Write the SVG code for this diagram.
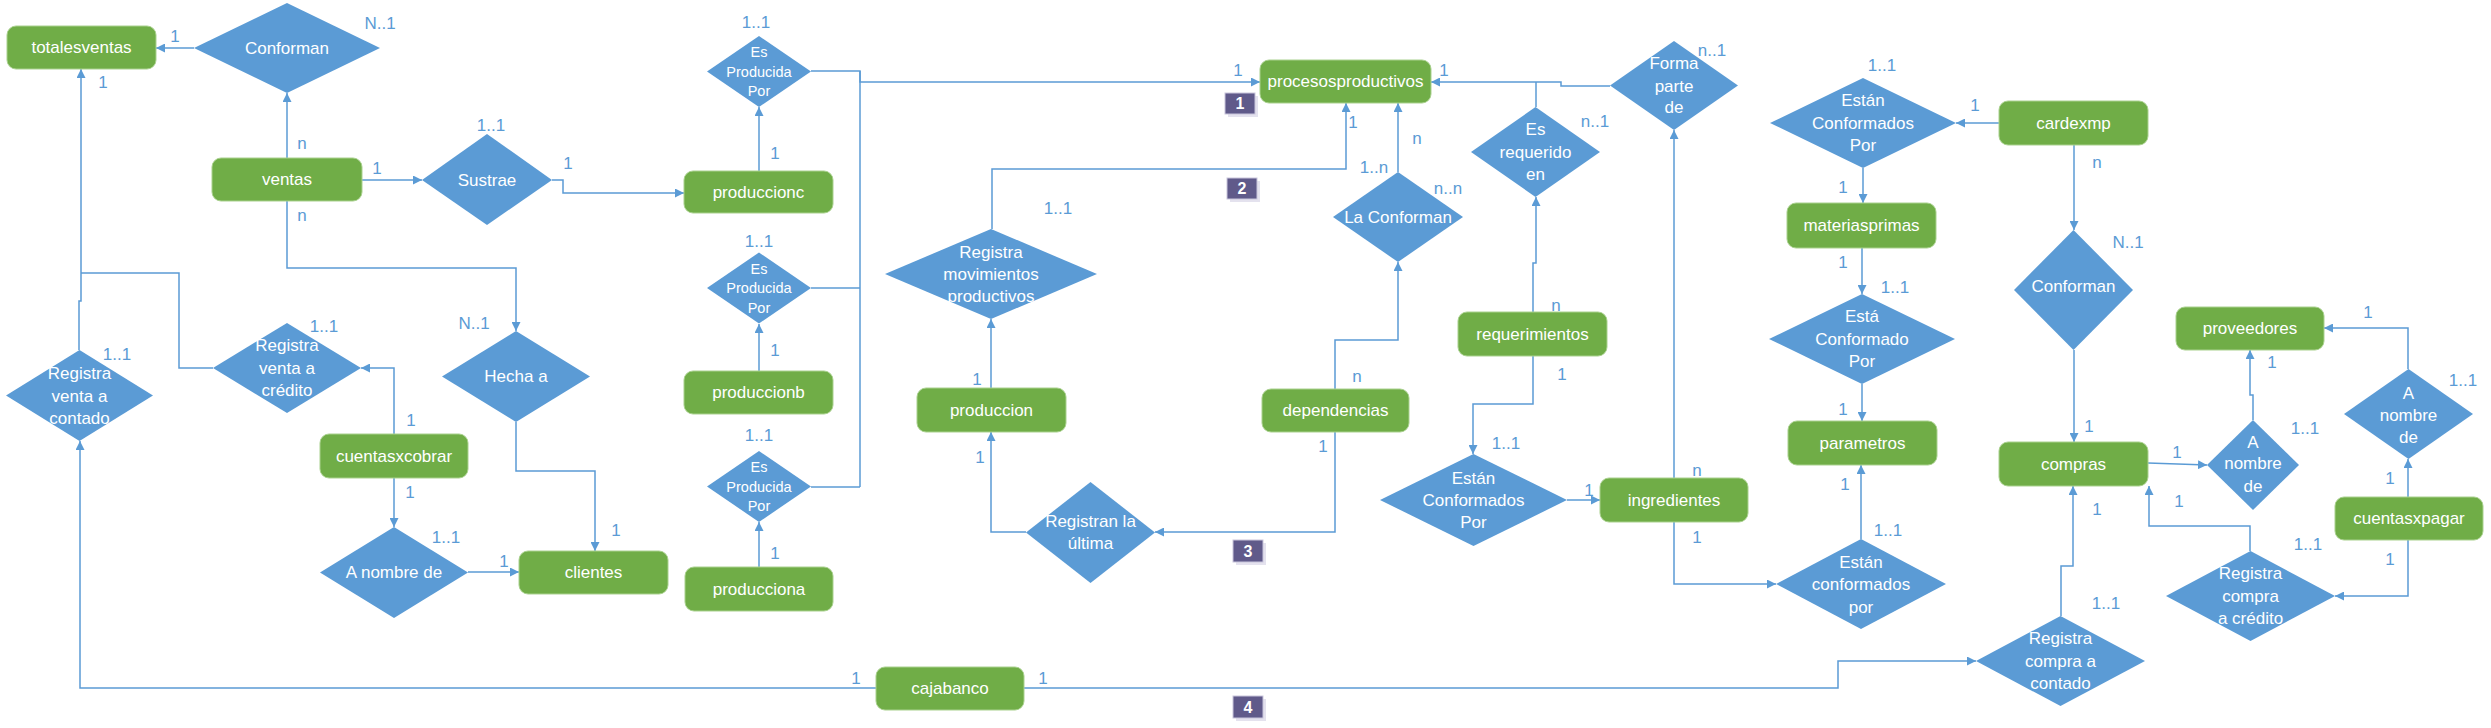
<svg xmlns="http://www.w3.org/2000/svg" width="2491" height="728" viewBox="0 0 2491 728">
<defs>
<marker id="ar" viewBox="0 0 10 10" refX="10" refY="5" markerWidth="9" markerHeight="9" markerUnits="userSpaceOnUse" orient="auto">
<path d="M0,0 L10,5 L0,10 z" fill="#5B9BD5"/>
</marker>
<style>
.ent rect{fill:#70AD47;stroke:#A9D18E;stroke-width:1}
.ent text,.rel text{fill:#fff;font-family:"Liberation Sans",Arial,sans-serif;font-size:17px;text-anchor:middle;dominant-baseline:central}
.rel polygon{fill:#5B9BD5}
.rel text.s{font-size:14.5px}
.lbl{fill:#5B9BD5;font-family:"Liberation Sans",Arial,sans-serif;font-size:17px;text-anchor:middle;dominant-baseline:central}
#connectors polyline{fill:none;stroke:#5B9BD5;stroke-width:1.5}
#connectors polyline.a{marker-end:url(#ar)}
.badge rect.sh{fill:#E4E2EE}
.badge rect.bg{fill:#605A8A;stroke:#C9C6DC;stroke-width:1}
.badge text{fill:#fff;font-family:"Liberation Sans",Arial,sans-serif;font-size:16px;font-weight:bold;text-anchor:middle;dominant-baseline:central}
</style>
</defs>
<rect width="2491" height="728" fill="#fff"/>

<g id="connectors">
<polyline class="a" points="194,48 156,48"/>
<polyline class="a" points="287,158 287,93"/>
<polyline class="a" points="362,180 422,180"/>
<polyline class="a" points="552,180 563,180 563,193 684,193"/>
<polyline class="a" points="759,171 759,107"/>
<polyline class="a" points="811,71 860,71 860,82 1260,82"/>
<polyline points="860,71 860,487"/>
<polyline points="811,288 860,288"/>
<polyline points="811,487 860,487"/>
<polyline class="a" points="759,371 759,324"/>
<polyline class="a" points="759,567 759,522"/>
<polyline class="a" points="287,201 287,268 516,268 516,331"/>
<polyline class="a" points="516,422 516,471 595,471 595,551"/>
<polyline class="a" points="79,350 79,301 81,301 81,69"/>
<polyline points="81,273 179,273 179,368 213,368"/>
<polyline class="a" points="394,434 394,368 361,368"/>
<polyline class="a" points="394,478 394,527"/>
<polyline class="a" points="468,572 519,572"/>
<polyline class="a" points="876,688 80,688 80,441"/>
<polyline class="a" points="1024,688 1838,688 1838,661 1976,661"/>
<polyline class="a" points="992,229 992,169 1346,169 1346,103"/>
<polyline class="a" points="991,388 991,319"/>
<polyline class="a" points="1026,532 991,532 991,432"/>
<polyline class="a" points="1335,432 1335,532 1155,532"/>
<polyline class="a" points="1335,389 1335,340 1398,340 1398,262"/>
<polyline class="a" points="1398,172 1398,103"/>
<polyline class="a" points="1610,86 1561,86 1561,82 1431,82"/>
<polyline points="1536,107 1536,82"/>
<polyline class="a" points="1533,312 1533,263 1536,263 1536,197"/>
<polyline class="a" points="1533,356 1533,404 1473,404 1473,454"/>
<polyline class="a" points="1567,500 1600,500"/>
<polyline class="a" points="1674,478 1674,130"/>
<polyline class="a" points="1674,522 1674,584 1776,584"/>
<polyline class="a" points="1999,123 1956,123"/>
<polyline class="a" points="1863,168 1863,203"/>
<polyline class="a" points="1862,248 1862,294"/>
<polyline class="a" points="1862,384 1862,421"/>
<polyline class="a" points="1861,539 1861,465"/>
<polyline class="a" points="2074,145 2074,230"/>
<polyline class="a" points="2074,350 2074,442"/>
<polyline class="a" points="2148,463 2207,465"/>
<polyline class="a" points="2253,420 2253,395 2250,395 2250,350"/>
<polyline class="a" points="2408,369 2408,328 2324,328"/>
<polyline class="a" points="2408,497 2408,459"/>
<polyline class="a" points="2408,540 2408,596 2335,596"/>
<polyline class="a" points="2250,551 2250,526 2149,526 2149,486"/>
<polyline class="a" points="2061,616 2061,566 2073,566 2073,486"/>
</g>

<g id="n-totalesventas" class="ent"><rect x="7" y="26" width="149" height="43" rx="9"/><text x="81.5" y="47.5">totalesventas</text></g>
<g id="n-ventas" class="ent"><rect x="212" y="158" width="150" height="43" rx="9"/><text x="287" y="179.5">ventas</text></g>
<g id="n-produccionc" class="ent"><rect x="684" y="171" width="149" height="42" rx="9"/><text x="758.5" y="192">produccionc</text></g>
<g id="n-produccionb" class="ent"><rect x="684" y="371" width="149" height="43" rx="9"/><text x="758.5" y="392.5">produccionb</text></g>
<g id="n-producciona" class="ent"><rect x="685" y="567" width="148" height="44" rx="9"/><text x="759" y="589">producciona</text></g>
<g id="n-cuentasxcobrar" class="ent"><rect x="320" y="434" width="148" height="44" rx="9"/><text x="394" y="456">cuentasxcobrar</text></g>
<g id="n-clientes" class="ent"><rect x="519" y="551" width="149" height="43" rx="9"/><text x="593.5" y="572.5">clientes</text></g>
<g id="n-cajabanco" class="ent"><rect x="876" y="667" width="148" height="43" rx="9"/><text x="950" y="688.5">cajabanco</text></g>
<g id="n-procesosproductivos" class="ent"><rect x="1260" y="60" width="171" height="43" rx="9"/><text x="1345.5" y="81.5">procesosproductivos</text></g>
<g id="n-produccion" class="ent"><rect x="917" y="388" width="149" height="44" rx="9"/><text x="991.5" y="410">produccion</text></g>
<g id="n-dependencias" class="ent"><rect x="1262" y="389" width="147" height="43" rx="9"/><text x="1335.5" y="410.5">dependencias</text></g>
<g id="n-requerimientos" class="ent"><rect x="1458" y="312" width="149" height="44" rx="9"/><text x="1532.5" y="334">requerimientos</text></g>
<g id="n-ingredientes" class="ent"><rect x="1600" y="478" width="148" height="44" rx="9"/><text x="1674" y="500">ingredientes</text></g>
<g id="n-cardexmp" class="ent"><rect x="1999" y="101" width="149" height="44" rx="9"/><text x="2073.5" y="123">cardexmp</text></g>
<g id="n-materiasprimas" class="ent"><rect x="1787" y="203" width="149" height="45" rx="9"/><text x="1861.5" y="225.5">materiasprimas</text></g>
<g id="n-parametros" class="ent"><rect x="1788" y="421" width="149" height="44" rx="9"/><text x="1862.5" y="443">parametros</text></g>
<g id="n-compras" class="ent"><rect x="1999" y="442" width="149" height="44" rx="9"/><text x="2073.5" y="464">compras</text></g>
<g id="n-proveedores" class="ent"><rect x="2176" y="307" width="148" height="43" rx="9"/><text x="2250" y="328.5">proveedores</text></g>
<g id="n-cuentasxpagar" class="ent"><rect x="2335" y="497" width="148" height="43" rx="9"/><text x="2409" y="518.5">cuentasxpagar</text></g>

<g id="r-conforman1" class="rel"><polygon points="194,48 287,3 380,48 287,93"/><text x="287" y="48">Conforman</text></g>
<g id="r-sustrae" class="rel"><polygon points="422,180 487,134 552,180 487,225"/><text x="487" y="180">Sustrae</text></g>
<g id="r-esprod1" class="rel"><polygon points="707,71.5 759,36 811,71.5 759,107"/><text class="s" x="759" y="52">Es</text><text class="s" x="759" y="71.5">Producida</text><text class="s" x="759" y="91">Por</text></g>
<g id="r-esprod2" class="rel"><polygon points="707,288 759,252.5 811,288 759,323.5"/><text class="s" x="759" y="268.5">Es</text><text class="s" x="759" y="288">Producida</text><text class="s" x="759" y="307.5">Por</text></g>
<g id="r-esprod3" class="rel"><polygon points="707,486.5 759,451 811,486.5 759,522"/><text class="s" x="759" y="467">Es</text><text class="s" x="759" y="486.5">Producida</text><text class="s" x="759" y="506">Por</text></g>
<g id="r-hecha" class="rel"><polygon points="442,376.5 516,331 590,376.5 516,422"/><text x="516" y="376.5">Hecha a</text></g>
<g id="r-ventacredito" class="rel"><polygon points="213,368 287,323 361,368 287,413"/><text x="287" y="345">Registra</text><text x="287" y="368">venta a</text><text x="287" y="390">crédito</text></g>
<g id="r-ventacontado" class="rel"><polygon points="6,395.5 79.5,350 153,395.5 79.5,441"/><text x="79.5" y="373">Registra</text><text x="79.5" y="396">venta a</text><text x="79.5" y="418">contado</text></g>
<g id="r-anombre1" class="rel"><polygon points="320,572.5 394,527 468,572.5 394,618"/><text x="394" y="572.5">A nombre de</text></g>
<g id="r-regmov" class="rel"><polygon points="885,274 991,229 1097,274 991,319"/><text x="991" y="252">Registra</text><text x="991" y="274">movimientos</text><text x="991" y="296">productivos</text></g>
<g id="r-registran" class="rel"><polygon points="1026,532.5 1090.5,482 1155,532.5 1090.5,583"/><text x="1090.5" y="521">Registran la</text><text x="1090.5" y="543">última</text></g>
<g id="r-laconforman" class="rel"><polygon points="1333,217 1398,172 1463,217 1398,262"/><text x="1398" y="217">La Conforman</text></g>
<g id="r-esrequerido" class="rel"><polygon points="1471,152 1535.5,107 1600,152 1535.5,197"/><text x="1535.5" y="129">Es</text><text x="1535.5" y="152">requerido</text><text x="1535.5" y="174">en</text></g>
<g id="r-formaparte" class="rel"><polygon points="1610,85.5 1674,41 1738,85.5 1674,130"/><text x="1674" y="63">Forma</text><text x="1674" y="86">parte</text><text x="1674" y="107">de</text></g>
<g id="r-estanconf1" class="rel"><polygon points="1380,500 1473.5,454 1567,500 1473.5,546"/><text x="1473.5" y="478">Están</text><text x="1473.5" y="500">Conformados</text><text x="1473.5" y="522">Por</text></g>
<g id="r-estanconf2" class="rel"><polygon points="1770,123 1863,78 1956,123 1863,168"/><text x="1863" y="100">Están</text><text x="1863" y="123">Conformados</text><text x="1863" y="145">Por</text></g>
<g id="r-estaconf" class="rel"><polygon points="1769,339 1862,294 1955,339 1862,384"/><text x="1862" y="316">Está</text><text x="1862" y="339">Conformado</text><text x="1862" y="361">Por</text></g>
<g id="r-estanconf3" class="rel"><polygon points="1776,584 1861,539 1946,584 1861,629"/><text x="1861" y="562">Están</text><text x="1861" y="584">conformados</text><text x="1861" y="607">por</text></g>
<g id="r-conforman2" class="rel"><polygon points="2014,290 2073.5,230 2133,290 2073.5,350"/><text x="2073.5" y="286">Conforman</text></g>
<g id="r-anombre2" class="rel"><polygon points="2207,465 2253,420 2299,465 2253,510"/><text x="2253" y="442">A</text><text x="2253" y="463">nombre</text><text x="2253" y="486">de</text></g>
<g id="r-anombre3" class="rel"><polygon points="2344,414 2408.5,369 2473,414 2408.5,459"/><text x="2408.5" y="393">A</text><text x="2408.5" y="415">nombre</text><text x="2408.5" y="437">de</text></g>
<g id="r-compracredito" class="rel"><polygon points="2166,596 2250.5,551 2335,596 2250.5,641"/><text x="2250.5" y="573">Registra</text><text x="2250.5" y="596">compra</text><text x="2250.5" y="618">a crédito</text></g>
<g id="r-compracontado" class="rel"><polygon points="1976,661 2060.5,616 2145,661 2060.5,706"/><text x="2060.5" y="638">Registra</text><text x="2060.5" y="661">compra a</text><text x="2060.5" y="683">contado</text></g>

<g id="labels">
<text class="lbl" x="175" y="36">1</text>
<text class="lbl" x="380" y="23">N..1</text>
<text class="lbl" x="103" y="82">1</text>
<text class="lbl" x="302" y="143">n</text>
<text class="lbl" x="302" y="215">n</text>
<text class="lbl" x="377" y="168">1</text>
<text class="lbl" x="491" y="125">1..1</text>
<text class="lbl" x="568" y="163">1</text>
<text class="lbl" x="756" y="22">1..1</text>
<text class="lbl" x="775" y="153">1</text>
<text class="lbl" x="759" y="241">1..1</text>
<text class="lbl" x="775" y="350">1</text>
<text class="lbl" x="759" y="435">1..1</text>
<text class="lbl" x="775" y="553">1</text>
<text class="lbl" x="474" y="323">N..1</text>
<text class="lbl" x="616" y="530">1</text>
<text class="lbl" x="117" y="354">1..1</text>
<text class="lbl" x="324" y="326">1..1</text>
<text class="lbl" x="411" y="420">1</text>
<text class="lbl" x="410" y="492">1</text>
<text class="lbl" x="446" y="537">1..1</text>
<text class="lbl" x="504" y="561">1</text>
<text class="lbl" x="856" y="678">1</text>
<text class="lbl" x="1043" y="678">1</text>
<text class="lbl" x="1238" y="70">1</text>
<text class="lbl" x="1353" y="122">1</text>
<text class="lbl" x="1058" y="208">1..1</text>
<text class="lbl" x="977" y="379">1</text>
<text class="lbl" x="980" y="457">1</text>
<text class="lbl" x="1323" y="446">1</text>
<text class="lbl" x="1357" y="376">n</text>
<text class="lbl" x="1448" y="188">n..n</text>
<text class="lbl" x="1374" y="167">1..n</text>
<text class="lbl" x="1417" y="138">n</text>
<text class="lbl" x="1444" y="70">1</text>
<text class="lbl" x="1712" y="50">n..1</text>
<text class="lbl" x="1595" y="121">n..1</text>
<text class="lbl" x="1556" y="305">n</text>
<text class="lbl" x="1562" y="374">1</text>
<text class="lbl" x="1506" y="443">1..1</text>
<text class="lbl" x="1589" y="490">1</text>
<text class="lbl" x="1697" y="470">n</text>
<text class="lbl" x="1697" y="537">1</text>
<text class="lbl" x="1975" y="105">1</text>
<text class="lbl" x="1882" y="65">1..1</text>
<text class="lbl" x="1843" y="187">1</text>
<text class="lbl" x="1843" y="262">1</text>
<text class="lbl" x="1895" y="287">1..1</text>
<text class="lbl" x="1843" y="409">1</text>
<text class="lbl" x="1845" y="484">1</text>
<text class="lbl" x="1888" y="530">1..1</text>
<text class="lbl" x="2097" y="162">n</text>
<text class="lbl" x="2128" y="242">N..1</text>
<text class="lbl" x="2089" y="426">1</text>
<text class="lbl" x="2177" y="452">1</text>
<text class="lbl" x="2305" y="428">1..1</text>
<text class="lbl" x="2272" y="362">1</text>
<text class="lbl" x="2368" y="312">1</text>
<text class="lbl" x="2463" y="380">1..1</text>
<text class="lbl" x="2390" y="478">1</text>
<text class="lbl" x="2390" y="559">1</text>
<text class="lbl" x="2308" y="544">1..1</text>
<text class="lbl" x="2179" y="501">1</text>
<text class="lbl" x="2097" y="509">1</text>
<text class="lbl" x="2106" y="603">1..1</text>
</g>

<g id="b1" class="badge"><rect class="sh" x="1228" y="96" width="30" height="21"/><rect class="bg" x="1225" y="93" width="30" height="21"/><text x="1240" y="103.5">1</text></g>
<g id="b2" class="badge"><rect class="sh" x="1230" y="181" width="30" height="21"/><rect class="bg" x="1227" y="178" width="30" height="21"/><text x="1242" y="188.5">2</text></g>
<g id="b3" class="badge"><rect class="sh" x="1236" y="543" width="30" height="22"/><rect class="bg" x="1233" y="540" width="30" height="22"/><text x="1248" y="551">3</text></g>
<g id="b4" class="badge"><rect class="sh" x="1236" y="699" width="30" height="22"/><rect class="bg" x="1233" y="696" width="30" height="22"/><text x="1248" y="707">4</text></g>
</svg>
